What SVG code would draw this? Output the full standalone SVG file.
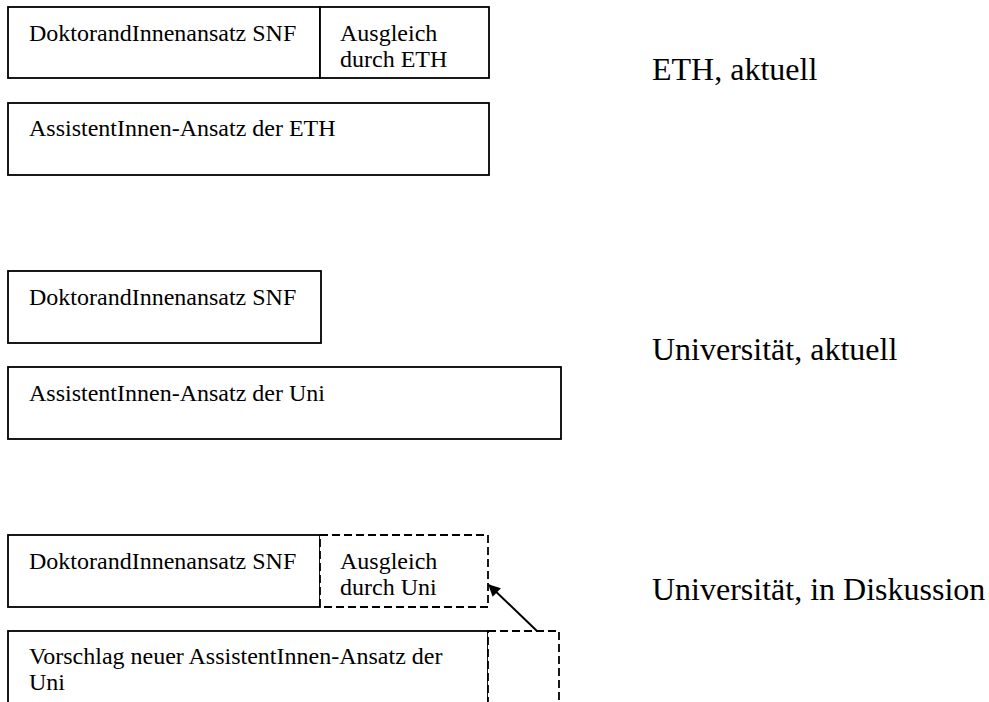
<svg xmlns="http://www.w3.org/2000/svg" width="989" height="702" viewBox="0 0 989 702">
<defs>
<style>
.box{fill:#fff;stroke:#000;stroke-width:1.8}
.dash{fill:#fff;stroke:#000;stroke-width:1.8;stroke-dasharray:8 4}
.t{font-family:"Liberation Serif","Times New Roman",serif;font-size:24px;fill:#000}
.lbl{font-family:"Liberation Serif","Times New Roman",serif;font-size:32px;fill:#000}
</style>
<marker id="ah" viewBox="0 0 10 10" refX="9" refY="5" markerWidth="14" markerHeight="12" markerUnits="userSpaceOnUse" orient="auto">
<path d="M0,0 L10,5 L0,10 Z" fill="#000"/>
</marker>
</defs>
<rect width="989" height="702" fill="#fff"/>
<g id="eth-doktor"><rect class="box" x="8" y="7" width="312" height="71"/><text class="t" x="29" y="41">DoktorandInnenansatz SNF</text></g>
<g id="eth-ausgleich"><rect class="box" x="320" y="7" width="169" height="71"/><text class="t" x="340" y="41">Ausgleich</text><text class="t" x="340" y="67">durch ETH</text></g>
<g id="eth-assistent"><rect class="box" x="8" y="103" width="481" height="72"/><text class="t" x="29" y="136">AssistentInnen-Ansatz der ETH</text></g>
<g id="label-eth"><text class="lbl" x="652" y="80">ETH, aktuell</text></g>
<g id="uni-doktor"><rect class="box" x="8" y="271" width="313" height="72"/><text class="t" x="29" y="305">DoktorandInnenansatz SNF</text></g>
<g id="uni-assistent"><rect class="box" x="8" y="367" width="553" height="72"/><text class="t" x="29" y="401">AssistentInnen-Ansatz der Uni</text></g>
<g id="label-uni"><text class="lbl" x="652" y="360">Universität, aktuell</text></g>
<g id="disk-doktor"><rect class="box" x="8" y="535" width="312" height="72"/><text class="t" x="29" y="569">DoktorandInnenansatz SNF</text></g>
<g id="disk-ausgleich"><rect class="dash" x="320" y="535" width="168" height="72"/><text class="t" x="340" y="569">Ausgleich</text><text class="t" x="340" y="595">durch Uni</text></g>
<g id="disk-vorschlag"><rect class="box" x="8" y="631" width="480" height="80"/><text class="t" x="29" y="664">Vorschlag neuer AssistentInnen-Ansatz der</text><text class="t" x="29" y="690">Uni</text></g>
<g id="disk-extra"><rect class="dash" x="488" y="631" width="71" height="80"/></g>
<g id="label-disk"><text class="lbl" x="652" y="600">Universität, in Diskussion</text></g>
<g id="connectors"><line x1="537" y1="631" x2="489" y2="585" stroke="#000" stroke-width="2" marker-end="url(#ah)"/></g>
</svg>
